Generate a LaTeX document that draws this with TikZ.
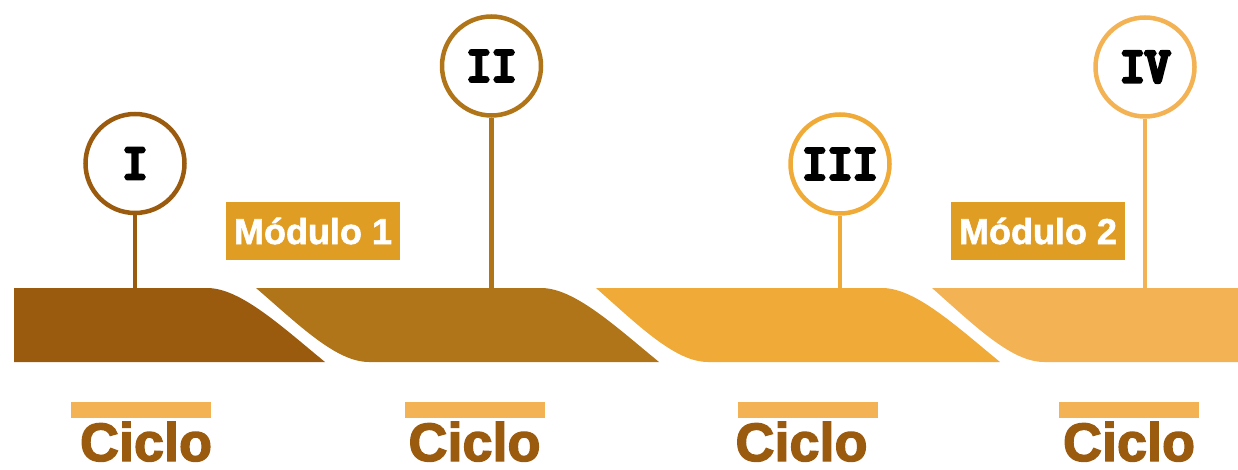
\documentclass[tikz,border=0pt]{standalone}
\usepackage{fontspec}
\setmainfont{Liberation Sans}
\newfontfamily\heavyfont[FakeBold=2.5]{Liberation Sans Bold}
\newfontfamily\modfont[FakeBold=1.5]{Liberation Sans Bold}
\newfontfamily\numfont[FakeBold=8]{Latin Modern Mono}
\usetikzlibrary{
	positioning,
	calc,
}
\definecolor{CycleOne}{HTML}{9B5B0F}
\definecolor{CycleTwo}{HTML}{B07419}
\definecolor{CycleThree}{HTML}{EFAA37}
\definecolor{CycleFour}{HTML}{F3B254}
\definecolor{ModBox}{HTML}{E09D24}

\begin{document}
\begin{tikzpicture}	[
				x=1pt,y=-1pt,
				pin/.style={circle,draw,fill=white,line width=4.5pt,minimum size=99pt,inner sep=0pt,font=\numfont\fontsize{49}{49}\selectfont},
				stem/.style={line width=4.5pt},
				modbox/.style={fill=ModBox,text=white,minimum width=174pt,minimum height=57pt,inner sep=0pt,font=\modfont\fontsize{36}{36}\selectfont},
				cyclebar/.style={fill=CycleFour,minimum width=140pt,minimum height=16pt,inner sep=0pt},
				cycletext/.style={anchor=base,inner sep=0pt,text=CycleOne,font=\heavyfont\fontsize{54}{54}\selectfont},
			]
			\useasboundingbox (0,0) rectangle (1238,470);

			% band
			\fill[CycleOne] (14,288) -- (207,288) .. controls (240,288) and (280,325) .. (325,362) -- (14,362) -- cycle;
			\fill[CycleTwo] (256,288) -- (541,288) .. controls (574,288) and (614,325) .. (659,362) -- (369,362) .. controls (336,362) and (299,325) .. (256,288) -- cycle;
			\fill[CycleThree] (596,288) -- (882,288) .. controls (915,288) and (955,325) .. (1000,362) -- (708,362) .. controls (675,362) and (638,325) .. (596,288) -- cycle;
			\fill[CycleFour] (932,288) -- (1238,288) -- (1238,362) -- (1044,362) .. controls (1011,362) and (974,325) .. (932,288) -- cycle;

			% pins
			\node (pinI) [pin,draw=CycleOne] at (135,163.5) {I};
			\node (pinII) [pin,draw=CycleTwo] at (491.5,66) {II};
			\node (pinIII) [pin,draw=CycleThree] at (840,164) {III};
			\node (pinIV) [pin,draw=CycleFour] at (1145,67) {IV};
			\coordinate (baseI) at (135,288);
			\coordinate (baseII) at (491.5,288);
			\coordinate (baseIII) at (840,288);
			\coordinate (baseIV) at (1145,288);

			\draw[stem,CycleOne] (pinI) -- (baseI);
			\draw[stem,CycleTwo] (pinII) -- (baseII);
			\draw[stem,CycleThree] (pinIII) -- (baseIII);
			\draw[stem,CycleFour] (pinIV) -- (baseIV);

			% modules
			\node (modI) [modbox] at (313,231) {Módulo 1};
			\node (modII) [modbox] at (1038,231) {Módulo 2};

			% cycles
			\node (barI) [cyclebar] at (141,410) {};
			\node (barII) [cyclebar] at (475,410) {};
			\node (barIII) [cyclebar] at (808,410) {};
			\node (barIV) [cyclebar] at (1129,410) {};
			\node (cycI) [cycletext] at (146,461) {Ciclo};
			\node (cycII) [cycletext] at (474.5,461) {Ciclo};
			\node (cycIII) [cycletext] at (801.5,461) {Ciclo};
			\node (cycIV) [cycletext] at (1129,461) {Ciclo};
		\end{tikzpicture}
\end{document}
